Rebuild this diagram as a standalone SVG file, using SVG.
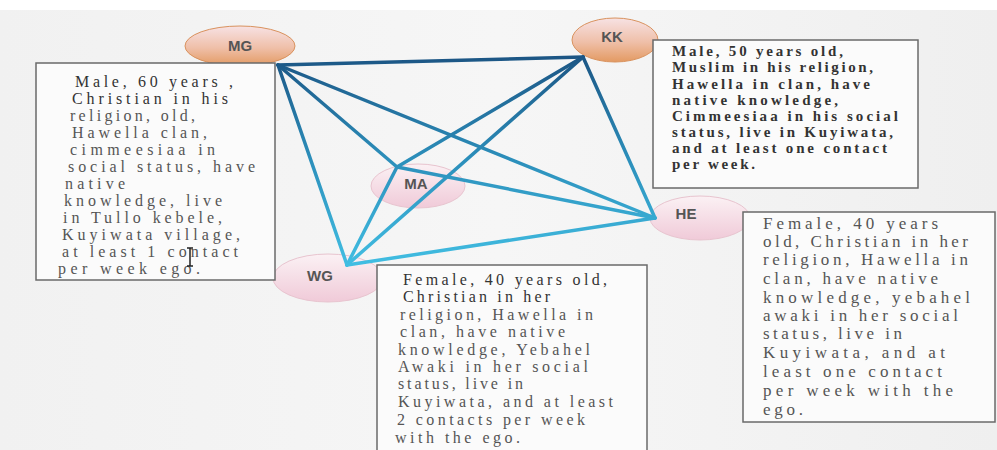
<svg xmlns="http://www.w3.org/2000/svg" width="997" height="450" viewBox="0 0 997 450">
<defs>
<linearGradient id="bg" x1="0" y1="0" x2="1" y2="0">
<stop offset="0" stop-color="#f1f1f1"/><stop offset="0.5" stop-color="#f6f6f6"/><stop offset="1" stop-color="#efefef"/>
</linearGradient>
<linearGradient id="edge" gradientUnits="userSpaceOnUse" x1="0" y1="50" x2="0" y2="270">
<stop offset="0" stop-color="#1b5281"/><stop offset="0.5" stop-color="#2c8fbb"/><stop offset="1" stop-color="#42c0e4"/>
</linearGradient>
<linearGradient id="orange" x1="0" y1="0" x2="0" y2="1">
<stop offset="0" stop-color="#f7e2e4"/><stop offset="0.55" stop-color="#efbfa8"/><stop offset="1" stop-color="#e39a62"/>
</linearGradient>
<linearGradient id="pink" x1="0" y1="0" x2="0" y2="1">
<stop offset="0" stop-color="#fbf1f4"/><stop offset="1" stop-color="#f0cad8"/>
</linearGradient>
</defs>
<style>
.nlabel{font-family:"Liberation Sans",Arial,sans-serif;font-size:15px;font-weight:bold;fill:#555;text-anchor:middle}
.box{fill:#fbfbfb;stroke:#6a6a6a;stroke-width:1.5}
.t{font-family:"Liberation Serif","Times New Roman",serif;fill:#555}
.mg{font-size:16px}
.kk{font-size:15px;font-weight:bold;fill:#333}
.he{font-size:17px}
.wg{font-size:16px}
.dark{fill:#333}
.e{stroke:url(#edge);stroke-width:3.5;fill:none;stroke-linecap:round}
</style>
<rect x="0" y="0" width="997" height="450" fill="url(#bg)"/>
<rect x="0" y="0" width="997" height="10" fill="#ffffff"/>

<g id="node-MG"><ellipse cx="240" cy="46" rx="55" ry="20" fill="url(#orange)" stroke="#d9925e" stroke-width="1"/><text class="nlabel" x="240" y="51">MG</text></g>
<g id="node-KK"><ellipse cx="615" cy="40" rx="43" ry="22" fill="url(#orange)" stroke="#d9925e" stroke-width="1"/><text class="nlabel" x="612" y="42">KK</text></g>
<g id="node-MA"><ellipse cx="418" cy="186" rx="47" ry="22" fill="url(#pink)" stroke="#e8c4cf" stroke-width="1"/><text class="nlabel" x="416" y="189">MA</text></g>
<g id="node-HE"><ellipse cx="700" cy="218" rx="50" ry="22" fill="url(#pink)" stroke="#e8c4cf" stroke-width="1"/><text class="nlabel" x="686" y="219">HE</text></g>
<g id="node-WG"><ellipse cx="328" cy="278" rx="55" ry="24" fill="url(#pink)" stroke="#e8c4cf" stroke-width="1"/><text class="nlabel" x="320" y="281">WG</text></g>

<g id="connectors">
<line class="e" x1="278" y1="65" x2="583" y2="57"/>
<line class="e" x1="278" y1="65" x2="397" y2="167"/>
<line class="e" x1="278" y1="65" x2="655" y2="218"/>
<line class="e" x1="278" y1="65" x2="347" y2="265"/>
<line class="e" x1="583" y1="57" x2="397" y2="167"/>
<line class="e" x1="583" y1="57" x2="347" y2="265"/>
<line class="e" x1="583" y1="57" x2="655" y2="218"/>
<line class="e" x1="397" y1="167" x2="655" y2="218"/>
<line class="e" x1="397" y1="167" x2="347" y2="265"/>
<line class="e" x1="347" y1="265" x2="655" y2="218"/>
</g>

<g id="box-MG">
<rect class="box" x="36" y="63" width="239" height="217"/>
<text class="t mg dark" x="75" y="87" textLength="158" lengthAdjust="spacing">Male, 60 years ,</text>
<text class="t mg dark" x="72" y="104" textLength="156" lengthAdjust="spacing">Christian in his</text>
<text class="t mg" x="70" y="121" textLength="125" lengthAdjust="spacing">religion,  old,</text>
<text class="t mg" x="72" y="138" textLength="135" lengthAdjust="spacing">Hawella clan,</text>
<text class="t mg" x="70" y="155" textLength="145" lengthAdjust="spacing">cimmeesiaa in</text>
<text class="t mg" x="68" y="172" textLength="187" lengthAdjust="spacing">social status, have</text>
<text class="t mg" x="65" y="189" textLength="60" lengthAdjust="spacing">native</text>
<text class="t mg" x="64" y="206" textLength="158" lengthAdjust="spacing">knowledge, live</text>
<text class="t mg" x="63" y="223" textLength="159" lengthAdjust="spacing">in Tullo kebele,</text>
<text class="t mg" x="62" y="240" textLength="178" lengthAdjust="spacing">Kuyiwata village,</text>
<text class="t mg" x="62" y="257" textLength="176" lengthAdjust="spacing">at least 1 contact</text>
<text class="t mg" x="58" y="274" textLength="142" lengthAdjust="spacing">per week ego.</text>
<path d="M187 248 H193 M190 248 V266 M187 266 H193" stroke="#222" stroke-width="1.5" fill="none"/>
</g>

<g id="box-KK">
<rect class="box" x="653" y="40" width="265" height="148"/>
<text class="t kk" x="672" y="56" textLength="171" lengthAdjust="spacing">Male, 50 years old,</text>
<text class="t kk" x="672" y="72" textLength="201" lengthAdjust="spacing">Muslim in his religion,</text>
<text class="t kk" x="672" y="89" textLength="198" lengthAdjust="spacing">Hawella in clan, have</text>
<text class="t kk" x="672" y="105" textLength="166" lengthAdjust="spacing">native knowledge,</text>
<text class="t kk" x="672" y="121" textLength="226" lengthAdjust="spacing">Cimmeesiaa in his  social</text>
<text class="t kk" x="672" y="137" textLength="221" lengthAdjust="spacing">status, live in  Kuyiwata,</text>
<text class="t kk" x="672" y="153" textLength="215" lengthAdjust="spacing">and at least one contact</text>
<text class="t kk" x="672" y="169" textLength="83" lengthAdjust="spacing">per week.</text>
</g>

<g id="box-HE">
<rect class="box" x="743" y="212" width="252" height="210"/>
<text class="t he" x="763" y="229" textLength="175" lengthAdjust="spacing">Female, 40 years</text>
<text class="t he" x="763" y="247" textLength="205" lengthAdjust="spacing">old, Christian in her</text>
<text class="t he" x="763" y="265" textLength="205" lengthAdjust="spacing">religion, Hawella in</text>
<text class="t he" x="763" y="284" textLength="175" lengthAdjust="spacing">clan, have native</text>
<text class="t he" x="763" y="303" textLength="207" lengthAdjust="spacing">knowledge, yebahel</text>
<text class="t he" x="763" y="321" textLength="195" lengthAdjust="spacing">awaki in her social</text>
<text class="t he" x="763" y="339" textLength="139" lengthAdjust="spacing">status, live in</text>
<text class="t he" x="763" y="358" textLength="182" lengthAdjust="spacing">Kuyiwata, and at</text>
<text class="t he" x="763" y="377" textLength="179" lengthAdjust="spacing">least one contact</text>
<text class="t he" x="763" y="396" textLength="190" lengthAdjust="spacing">per week with the</text>
<text class="t he" x="763" y="415" textLength="40" lengthAdjust="spacing">ego.</text>
</g>

<g id="box-WG">
<rect class="box" x="377" y="265" width="270" height="200"/>
<text class="t wg dark" x="403" y="285" textLength="204" lengthAdjust="spacing">Female, 40 years old,</text>
<text class="t wg dark" x="403" y="302" textLength="147" lengthAdjust="spacing">Christian in her</text>
<text class="t wg" x="400" y="320" textLength="193" lengthAdjust="spacing">religion,  Hawella in</text>
<text class="t wg" x="400" y="337" textLength="165" lengthAdjust="spacing">clan, have native</text>
<text class="t wg" x="398" y="355" textLength="192" lengthAdjust="spacing">knowledge, Yebahel</text>
<text class="t wg" x="398" y="372" textLength="190" lengthAdjust="spacing">Awaki in her social</text>
<text class="t wg" x="398" y="389" textLength="125" lengthAdjust="spacing">status, live in</text>
<text class="t wg" x="398" y="407" textLength="215" lengthAdjust="spacing">Kuyiwata, and at least</text>
<text class="t wg" x="397" y="425" textLength="188" lengthAdjust="spacing">2 contacts per week</text>
<text class="t wg" x="395" y="443" textLength="125" lengthAdjust="spacing">with the ego.</text>
</g>
</svg>
